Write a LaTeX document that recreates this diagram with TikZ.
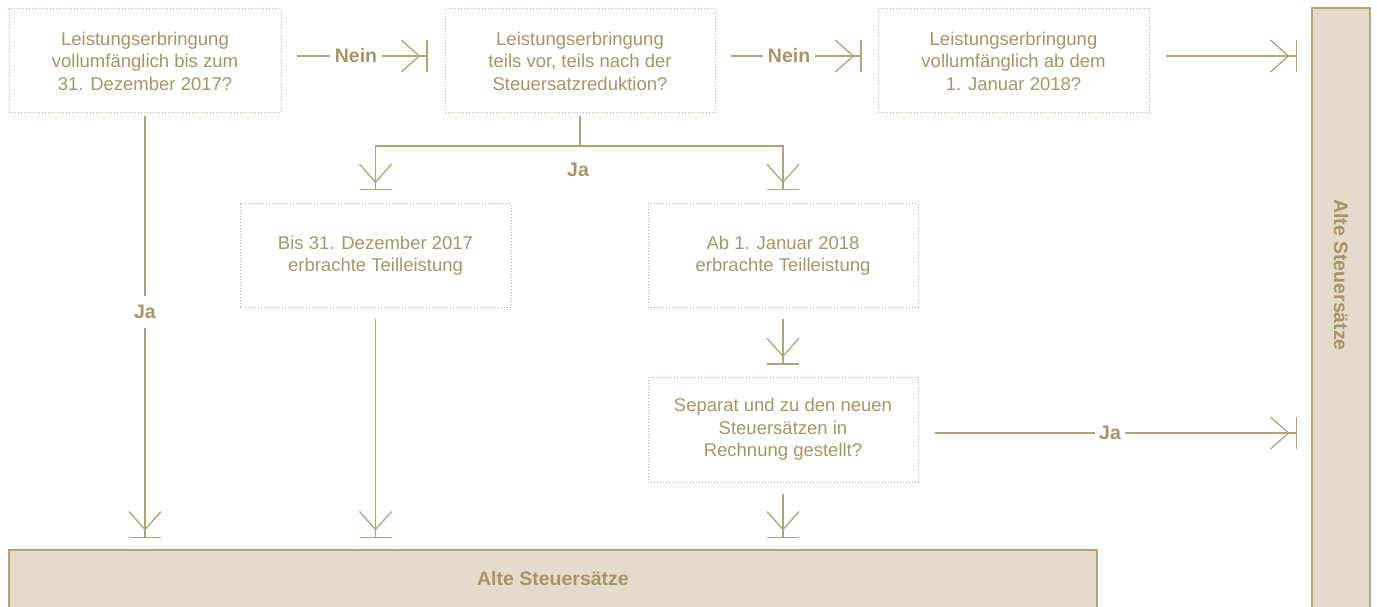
\documentclass[tikz,border=0pt]{standalone}
\usepackage{fontspec}
\setmainfont{Liberation Sans}
\usetikzlibrary{arrows.meta}
\definecolor{gold}{RGB}{178,162,118}
\definecolor{goldtext}{RGB}{168,148,98}
\definecolor{dotgold}{RGB}{192,177,138}
\definecolor{beige}{RGB}{227,220,204}
\definecolor{beigeline}{RGB}{180,163,117}
\tikzset{
  qbox/.style={draw=dotgold, line width=1pt, dash pattern=on 1pt off 2pt,
    align=center, text=goldtext, inner sep=0pt,
    font=\fontsize{18.5}{22.5}\selectfont},
  conn/.style={draw=gold, line width=1.3pt,
    -{Straight Barb[length=18pt,width=32pt,sep=6pt]Bar[width=32pt]}},
  plain/.style={draw=gold, line width=1.3pt},
  lbl/.style={fill=white, text=goldtext, inner xsep=4.5pt, inner ysep=9pt,
    font=\fontsize{19.5}{22}\selectfont\bfseries},
  barfill/.style={fill=beige, inner sep=0pt},
  barline/.style={draw=beigeline, line width=1.5pt},
  bartext/.style={text=goldtext, font=\fontsize{19.5}{22}\selectfont\bfseries}
}
\begin{document}
\begin{tikzpicture}[x=1pt,y=-1pt]
\useasboundingbox (0,0) rectangle (1377,607);
% boxes
\node[qbox, minimum width=272pt, minimum height=104pt] (b1) at (145,61)
  {Leistungserbringung\\vollumfänglich bis zum\\31. Dezember 2017?};
\node[qbox, minimum width=270pt, minimum height=104pt] (b2) at (580,61)
  {Leistungserbringung\\teils vor, teils nach der\\Steuersatzreduktion?};
\node[qbox, minimum width=271pt, minimum height=104pt] (b3) at (1013.5,61)
  {Leistungserbringung\\vollumfänglich ab dem\\1. Januar 2018?};
\node[qbox, minimum width=271pt, minimum height=103pt] (b4) at (375.5,255.5)
  {Bis 31. Dezember 2017\\erbrachte Teilleistung};
\node[qbox, minimum width=270pt, minimum height=103pt] (b5) at (783,255.5)
  {Ab 1. Januar 2018\\erbrachte Teilleistung};
\node[qbox, minimum width=270pt, minimum height=105pt] (b6) at (783,429.5)
  {Separat und zu den neuen\\Steuersätzen in\\Rechnung gestellt?};
% result bars
\node[barfill, minimum width=1088pt, minimum height=57pt] (bottom) at (553,578.5) {};
\draw[barline] (bottom.south west) -- (bottom.north west) -- (bottom.north east) -- (bottom.south east);
\node[bartext] (bottomtext) at (553,579) {Alte Steuersätze};
\node[barfill, minimum width=58pt, minimum height=599pt] (right) at (1341,307.5) {};
\draw[barline] (right.south west) -- (right.north west) -- (right.north east) -- (right.south east);
\node[bartext, rotate=-90] (righttext) at (1341,275) {Alte Steuersätze};
% connectors
\draw[conn, shorten <=15pt, shorten >=17pt] ([yshift=5pt]b1.east) -- node[lbl, pos=0.457] {Nein} ([yshift=5pt]b2.west);
\draw[conn, shorten <=15pt, shorten >=16pt] ([yshift=5pt]b2.east) -- node[lbl, pos=0.454] {Nein} ([yshift=5pt]b3.west);
\draw[conn, shorten <=16pt, shorten >=15pt] ([yshift=5pt]b3.east) -- ([yshift=5pt]b3.east -| right.west);
\draw[conn, shorten <=16pt, shorten >=15pt] ([yshift=-3.5pt]b6.east) -- node[lbl, pos=0.487] {Ja} ([yshift=-3.5pt]b6.east -| right.west);
\draw[conn, shorten <=3pt, shorten >=12pt] (b1.south) -- node[lbl, pos=0.455] {Ja} (b1.south |- bottom.north);
\draw[conn, shorten <=11pt, shorten >=12pt] (b4.south) -- (b4.south |- bottom.north);
\draw[conn, shorten <=11pt, shorten >=12pt] (b5.south) -- (b6.north);
\draw[conn, shorten <=11pt, shorten >=12pt] (b6.south) -- (bottom.north -| b6.south);
\coordinate (split) at (580,146);
\draw[plain, shorten <=3pt] (b2.south) -- (split);
\draw[conn, shorten >=13pt] (split) -| (b4.north);
\draw[conn, shorten >=13pt] (split) -| (b5.north);
\node[lbl, fill=none] (ja2) at (578,170) {Ja};
\end{tikzpicture}
\end{document}
